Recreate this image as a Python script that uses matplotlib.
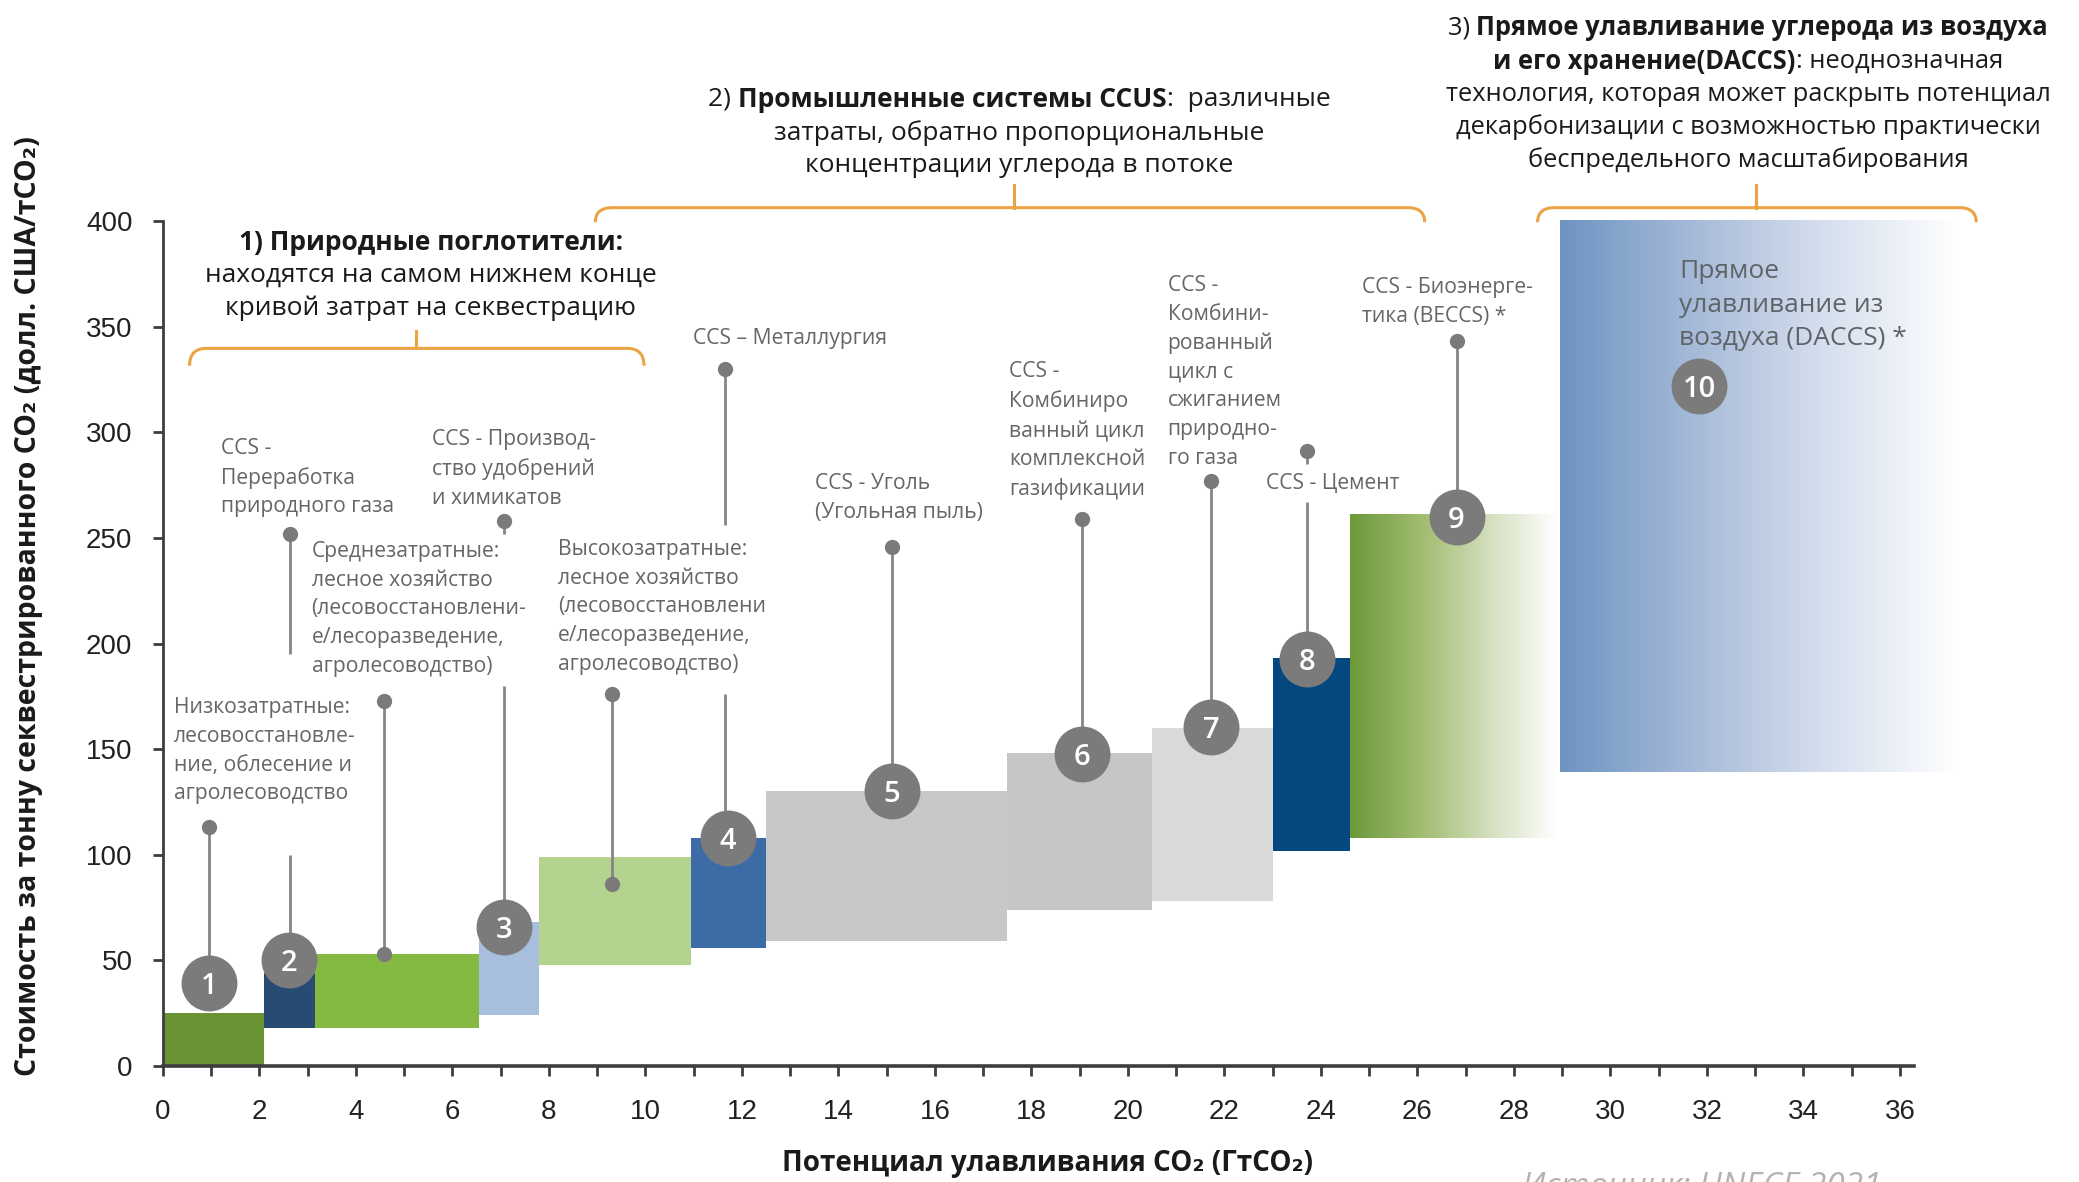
import numpy as np
import matplotlib
matplotlib.use('Agg')
import matplotlib.pyplot as plt
from matplotlib.colors import LinearSegmentedColormap
from matplotlib.path import Path
from matplotlib.patches import PathPatch

plt.rcParams['font.family'] = ['Open Sans', 'DejaVu Sans']

# --- data -------------------------------------------------------------
# solid steps of the cost curve (x in GtCO2, y in $/tCO2)
bar_left = [0, 2.1, 3.15, 6.55, 7.8, 10.95, 12.5, 17.5, 20.5, 23.0]
bar_right = [2.1, 3.15, 6.55, 7.8, 10.95, 12.5, 17.5, 20.5, 23.0, 24.6]
bar_low = [0, 18, 18, 24, 48, 56, 59, 74, 78, 102]
bar_high = [25, 44, 53, 68, 99, 108, 130, 148, 160, 193]
bar_colors = ['#6a9433', '#274b73', '#84b942', '#a7bedc', '#b3d38f',
              '#3d6ba5', '#c8c8c8', '#c6c6c6', '#d9d9d9', '#05487f']

# faded steps (BECCS, DACCS)
grad_left = [24.6, 28.95]
grad_right = [28.9, 37.2]
grad_low = [108, 139]
grad_high = [261, 400]
grad_stops = [['#6c993a', '#9fbb6e', '#d3dfbd', '#ffffff'],
              ['#6d94c2', '#a5bad8', '#d6dfee', '#ffffff']]

# numbered markers
num_x = [0.96, 2.61, 7.06, 11.70, 15.11, 19.04, 21.73, 23.71, 26.81, 31.84]
num_y = [39.5, 50.2, 65.9, 108, 130, 147.5, 160.7, 192.7, 259.9, 322]

# pins: x, top dot, bottom end, gap (upper, lower), bottom dot
pin_x = [0.96, 2.63, 4.59, 7.06, 9.31, 11.65, 15.11, 19.04, 21.73, 23.71, 26.81]
pin_top = [113, 252, 173, 258, 176, 330, 245.5, 259, 277, 291, 343]
pin_bottom = [39.5, 50.2, 53, 65.9, 86, 108, 130, 147.5, 160.7, 192.7, 259.9]
gap_hi = [np.nan, 195, np.nan, 252, np.nan, 256, np.nan, np.nan, np.nan, 285, np.nan]
gap_lo = [np.nan, 100, np.nan, 180, np.nan, 176, np.nan, np.nan, np.nan, 267, np.nan]
pin_bottom_dot = [False, False, True, False, True, False, False, False, False, False, False]

labels = [
    "Низкозатратные:\nлесовосстановле-\nние, облесение и\nагролесоводство",
    "CCS -\nПереработка\nприродного газа",
    "Среднезатратные:\nлесное хозяйство\n(лесовосстановлени-\nе/лесоразведение,\nагролесоводство)",
    "CCS - Производ-\nство удобрений\nи химикатов",
    "Высокозатратные:\nлесное хозяйство\n(лесовосстановлени\nе/лесоразведение,\nагролесоводство)",
    "CCS – Металлургия",
    "CCS - Уголь\n(Угольная пыль)",
    "CCS -\nКомбиниро\nванный цикл\nкомплексной\nгазификации",
    "CCS -\nКомбини-\nрованный\nцикл с\nсжиганием\nприродно-\nго газа",
    "CCS - Цемент",
    "CCS - Биоэнерге-\nтика (BECCS) *",
]
label_x = [0.22, 1.21, 3.08, 5.58, 8.19, 10.99, 13.52, 17.53, 20.82, 22.86, 24.86]
label_top = [174.5, 297.5, 248.5, 301.5, 249.5, 349.5, 280.5, 333.5, 374.5, 280.5, 373.5]

daccs_label = "Прямое\nулавливание из\nвоздуха (DACCS) *"

# group braces
brace_x0 = [0.55, 8.96, 28.49]
brace_x1 = [9.97, 26.15, 37.58]
brace_xc = [5.25, 17.64, 33.02]
brace_y = [339.7, 406.3, 406.3]
brace_end = [331.5, 399.4, 399.4]
brace_tick = [348, 417, 417]

t1_lines = [[("1) Природные поглотители:", "bold")],
            [("находятся на самом нижнем конце", "normal")],
            [("кривой затрат на секвестрацию", "normal")]]
t1_y = [389.7, 374.2, 358.5]
t2_lines = [[("2) ", "normal"), ("Промышленные системы CCUS", "bold"), (":  различные", "normal")],
            [("затраты, обратно пропорциональные", "normal")],
            [("концентрации углерода в потоке", "normal")]]
t2_y = [457.7, 441.7, 426.2]
t3_lines = [[("3) ", "normal"), ("Прямое улавливание углерода из воздуха", "bold")],
            [("и его хранение(DACCS)", "bold"), (": неоднозначная", "normal")],
            [("технология, которая может раскрыть потенциал", "normal")],
            [("декарбонизации с возможностью практически", "normal")],
            [("беспредельного масштабирования", "normal")]]
t3_y = [491.4, 475.7, 460, 444.3, 428.6]

xticks = list(range(0, 37, 2))
yticks = list(range(0, 401, 50))

# --- figure -----------------------------------------------------------
fig = plt.figure(figsize=(20.79, 11.82), dpi=100)
ax = fig.add_axes([0.0784, 0.0981, 0.9051, 0.9019])

for l, r, lo, hi, c in zip(bar_left, bar_right, bar_low, bar_high, bar_colors):
    ax.bar(l, hi - lo, width=r - l, bottom=lo, align='edge', color=c,
           linewidth=0, zorder=2)

grad = np.linspace(0, 1, 256).reshape(1, -1)
for l, r, lo, hi, stops in zip(grad_left, grad_right, grad_low, grad_high, grad_stops):
    cmap = LinearSegmentedColormap.from_list('fade', stops)
    ax.imshow(grad, cmap=cmap, extent=(l, r, lo, hi), aspect='auto',
              interpolation='bilinear', zorder=2)

ax.set_xlim(0, 39)
ax.set_ylim(0, 504.6)

# pins
for x, top, bot, ghi, glo, bdot in zip(pin_x, pin_top, pin_bottom, gap_hi, gap_lo, pin_bottom_dot):
    if np.isnan(ghi):
        xs, ys = [x, x], [top, bot]
    else:
        xs, ys = [x, x, np.nan, x, x], [top, ghi, np.nan, glo, bot]
    ax.plot(xs, ys, color='#858585', lw=2, zorder=3, solid_capstyle='butt')
    ax.plot(x, top, 'o', ms=11, color='#7a7a7a', mew=0, zorder=4)
    if bdot:
        ax.plot(x, bot, 'o', ms=11, color='#7a7a7a', mew=0, zorder=4)

# numbered circles
ax.scatter(num_x, num_y, s=1620, color='#7b7b7b', linewidths=0, zorder=5)
for i, (x, y) in enumerate(zip(num_x, num_y)):
    ax.text(x, y, str(i + 1), color='white', fontsize=21, fontweight='semibold',
            ha='center', va='center_baseline', zorder=6)

# labels
for s, x, y in zip(labels, label_x, label_top):
    ax.text(x, y, s, ha='left', va='top', fontsize=15.2, color='#666666',
            linespacing=1.48, zorder=6)
ax.text(31.43, 382, daccs_label, ha='left', va='top', fontsize=19,
        color='#5f6468', linespacing=1.45, zorder=6)

# braces
for x0, x1, xc, yh, ye, yt in zip(brace_x0, brace_x1, brace_xc, brace_y, brace_end, brace_tick):
    r = 0.35
    verts = [(x0, ye), (x0, yh), (x0 + r, yh), (x1 - r, yh), (x1, yh), (x1, ye)]
    codes = [Path.MOVETO, Path.CURVE3, Path.CURVE3, Path.LINETO, Path.CURVE3, Path.CURVE3]
    ax.add_patch(PathPatch(Path(verts, codes), fill=False, edgecolor='#eaa443',
                           lw=2.2, zorder=3, clip_on=False))
    ax.plot([xc, xc], [yh, yt], color='#eaa443', lw=2.2, zorder=3, clip_on=False)

# group titles with mixed weights
renderer = fig.canvas.get_renderer()
px_per_x = ax.bbox.width / 39.0


def title_block(lines, ys, xc, size):
    for parts, y in zip(lines, ys):
        texts = [ax.text(0, y, t, fontsize=size, fontweight=w, color='#1a1a1a',
                         ha='left', va='center', zorder=6) for t, w in parts]
        widths = [t.get_window_extent(renderer=renderer).width / px_per_x for t in texts]
        x = xc - sum(widths) / 2
        for t, w in zip(texts, widths):
            t.set_x(x)
            x += w


title_block(t1_lines, t1_y, 5.55, 19)
title_block(t2_lines, t2_y, 17.75, 19)
title_block(t3_lines, t3_y, 32.85, 18.4)

# axes styling
for side in ['top', 'right']:
    ax.spines[side].set_visible(False)
ax.spines['left'].set_bounds(0, 400)
ax.spines['bottom'].set_bounds(0, 36.3)
ax.spines['left'].set_color('#3d3d3d')
ax.spines['bottom'].set_color('#3d3d3d')
ax.spines['left'].set_linewidth(2)
ax.spines['bottom'].set_linewidth(2.6)
ax.spines['left'].set_zorder(7)
ax.spines['bottom'].set_zorder(7)

ax.set_xticks(xticks)
ax.set_xticks(range(0, 37), minor=True)
ax.set_yticks(yticks)
ax.tick_params(axis='both', which='both', length=7, width=2, color='#3d3d3d',
               labelsize=20, labelcolor='#222222')
ax.tick_params(axis='x', pad=17)
ax.tick_params(axis='y', pad=15)
for lab in ax.get_xticklabels() + ax.get_yticklabels():
    lab.set_family(['Liberation Sans', 'DejaVu Sans'])

fig.text(29 / 2079, 1 - 606 / 1182,
         "Стоимость за тонну секвестрированного CO₂ (долл. США/тCO₂)",
         rotation=90, ha='center', va='center', fontsize=20.5, fontweight='bold',
         color='#1a1a1a')
fig.text(1047.5 / 2079, 1 - 1164 / 1182, "Потенциал улавливания CO₂ (ГтCO₂)",
         ha='center', va='center', fontsize=20, fontweight='bold', color='#1a1a1a')
fig.text(1522 / 2079, -0.012, "Источник: UNECE 2021", ha='left', va='baseline',
         fontsize=24, style='italic', color='#b3b3b3')

fig.savefig('out.png', dpi=100)
